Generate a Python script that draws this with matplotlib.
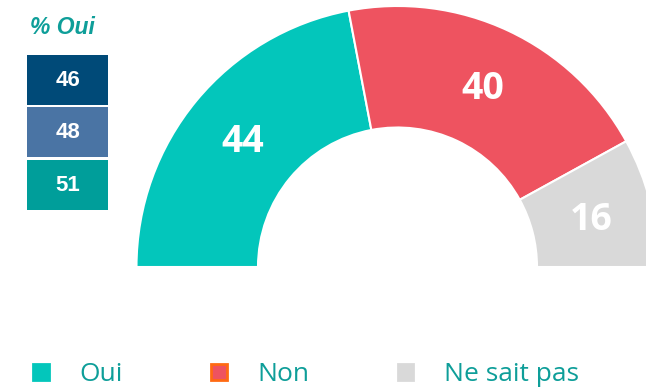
import matplotlib
matplotlib.use("Agg")
import matplotlib.pyplot as plt
from matplotlib.patches import Rectangle, Patch
import numpy as np

# main answer split (percent)
categories = ["Oui", "Non", "Ne sait pas"]
values = [44, 40, 16]
colors = ["#03C6BB", "#EE5360", "#D9D9D9"]
legend_face = ["#03C6BB", "#EE5360", "#D9D9D9"]
legend_edge = ["#03C6BB", "#FF6A13", "#D9D9D9"]

# "% Oui" side boxes
oui_values = [46, 48, 51]
oui_colors = ["#004A78", "#4A74A4", "#009E9A"]

teal_text = "#0E9E99"

W, H = 646, 389
fig = plt.figure(figsize=(W / 100, H / 100), dpi=100)
ax = fig.add_axes([0, 0, 1, 1])

# half donut: an invisible wedge of equal size fills the bottom half
cx, cy = 397.5, H - 267
r_out, r_in = 261, 139.5
wedges, _ = ax.pie(values + [sum(values)], radius=r_out, center=(cx, cy),
                   startangle=180, counterclock=False,
                   colors=colors + ["none"],
                   wedgeprops=dict(width=r_out - r_in, edgecolor="white",
                                   linewidth=1.5))
wedges[-1].set_edgecolor("none")

# value labels at the middle of each ring segment
total = sum(values)
start = 180.0
r_mid = (r_out + r_in) / 2
for v in values:
    span = 180.0 * v / total
    ang = np.deg2rad(start - span / 2)
    ax.text(cx + r_mid * np.cos(ang), cy + r_mid * np.sin(ang) - 3, str(v),
            ha="center", va="center", color="white", fontsize=27,
            fontweight="bold", family="Open Sans")
    start -= span

# left column
ax.text(30, H - 27, "% Oui", ha="left", va="center", color=teal_text,
        fontsize=16.5, fontweight="bold", fontstyle="italic",
        family="Liberation Sans")
box_tops = [55, 107, 160]
for top, v, c in zip(box_tops, oui_values, oui_colors):
    ax.add_patch(Rectangle((27, H - top - 50), 81, 50, facecolor=c,
                           edgecolor="none"))
    ax.text(67.5, H - top - 25, str(v), ha="center", va="center",
            color="white", fontsize=16, fontweight="bold",
            family="Liberation Sans")

ax.set_xlim(0, W)
ax.set_ylim(0, H)
ax.set_aspect("equal")
ax.axis("off")

handles = [Patch(facecolor=f, edgecolor=e, linewidth=2, label=l)
           for f, e, l in zip(legend_face, legend_edge, categories)]
leg = fig.legend(handles=handles, loc="center left",
                 bbox_to_anchor=(33 / W, 1 - 374.5 / H), ncol=3, frameon=False,
                 borderpad=0, borderaxespad=0, handlelength=0.6,
                 handleheight=0.55, handletextpad=1.15, columnspacing=3.35,
                 prop=dict(family="Open Sans", size=19))
for t in leg.get_texts():
    t.set_color(teal_text)

fig.savefig("out.png", dpi=100)
